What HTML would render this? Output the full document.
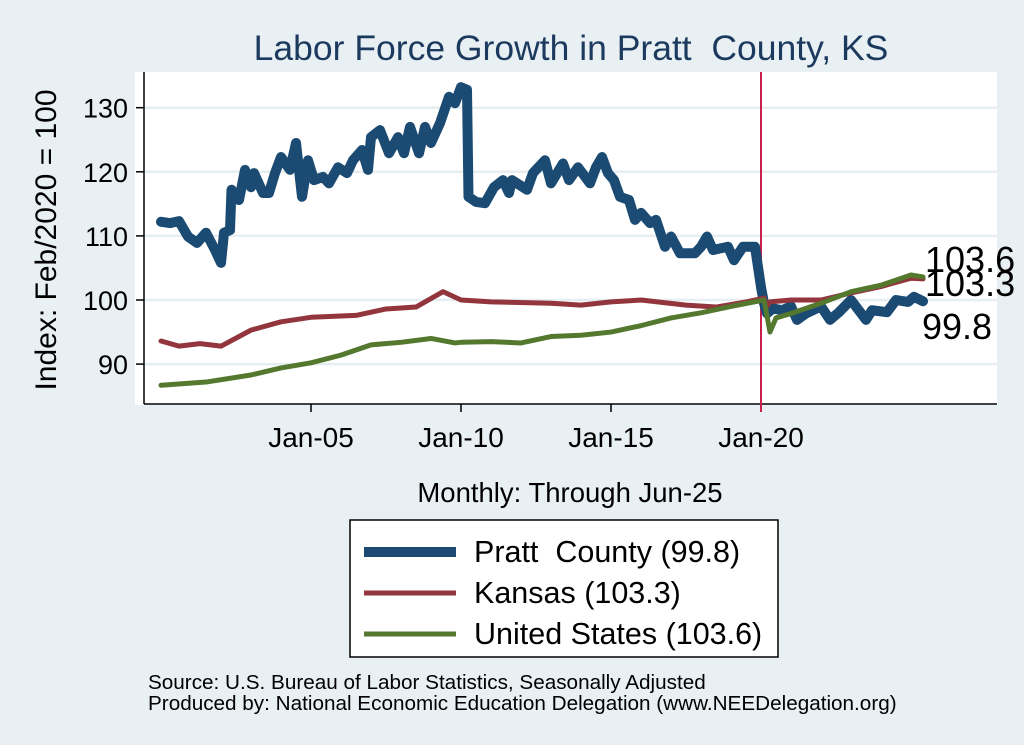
<!DOCTYPE html>
<html><head><meta charset="utf-8"><style>
html,body{margin:0;padding:0;background:#e9f0f4;}
svg{display:block;font-family:"Liberation Sans",sans-serif;}
</style></head><body>
<svg width="1024" height="745" viewBox="0 0 1024 745">
<rect x="0" y="0" width="1024" height="745" fill="#e9f0f4"/>
<rect x="135" y="72" width="862" height="333" fill="#ffffff"/>
<text x="571" y="60" font-size="35.5" fill="#1c3a5e" text-anchor="middle">Labor Force Growth in Pratt&#160; County, KS</text>
<g id="grid"></g>
<g id="axes"></g>
<g id="series"></g>
<text transform="translate(56,240) rotate(-90)" font-size="30" text-anchor="middle" fill="#000">Index: Feb/2020 = 100</text>
<text x="570" y="502" font-size="27.5" text-anchor="middle" fill="#000">Monthly: Through Jun-25</text>
<g>
<rect x="350" y="520" width="428" height="137" fill="#fff" stroke="#000" stroke-width="1.5"/>
<g><line x1="364" y1="552" x2="456" y2="552" stroke="#1b4a72" stroke-width="10"/><text x="474" y="562" font-size="30.5">Pratt&#160; County (99.8)</text></g>
<g><line x1="364" y1="593" x2="456" y2="593" stroke="#92353d" stroke-width="5"/><text x="474" y="603" font-size="30.5">Kansas (103.3)</text></g>
<g><line x1="364" y1="634" x2="456" y2="634" stroke="#55782f" stroke-width="5"/><text x="474" y="644" font-size="30.5">United States (103.6)</text></g>
</g>
<text x="148" y="689" font-size="20.7">Source: U.S. Bureau of Labor Statistics, Seasonally Adjusted</text>
<text x="148" y="710" font-size="20.7">Produced by: National Economic Education Delegation (www.NEEDelegation.org)</text>
</svg>
<script>
const yTicks=[90,100,110,120,130];
const xTickYears=[2005,2010,2015,2020];
const xTickLabels=["Jan-05","Jan-10","Jan-15","Jan-20"];
const prattDates=[2000.0,2000.3,2000.6,2000.9,2001.2,2001.5,2001.8,2002.0,2002.1,2002.3,2002.35,2002.6,2002.8,2003.0,2003.1,2003.4,2003.6,2003.8,2004.0,2004.3,2004.5,2004.7,2004.9,2005.1,2005.4,2005.6,2005.9,2006.2,2006.4,2006.7,2006.9,2007.0,2007.3,2007.6,2007.9,2008.1,2008.3,2008.6,2008.8,2009.0,2009.3,2009.6,2009.8,2010.0,2010.2,2010.25,2010.5,2010.8,2011.1,2011.4,2011.6,2011.7,2012.2,2012.4,2012.8,2013.0,2013.4,2013.6,2013.9,2014.3,2014.5,2014.7,2014.9,2015.1,2015.3,2015.6,2015.8,2016.0,2016.3,2016.5,2016.8,2017.0,2017.3,2017.8,2018.0,2018.2,2018.4,2018.9,2019.1,2019.4,2019.8,2020.0,2020.1,2020.2,2020.4,2020.7,2021.0,2021.2,2021.5,2022.0,2022.3,2022.6,2023.0,2023.5,2023.7,2024.2,2024.5,2024.9,2025.1,2025.4];
const prattValues=[112.2,112.0,112.3,109.9,108.9,110.5,107.8,105.8,110.5,110.9,117.2,115.6,120.3,117.6,119.8,116.7,116.7,119.8,122.3,120.3,124.5,116.1,121.8,118.7,119.2,118.2,120.7,119.8,121.8,123.4,120.3,125.4,126.5,122.9,125.4,122.9,127.0,122.9,127.0,124.5,127.6,131.7,130.7,133.2,132.8,116.1,115.3,115.1,117.6,118.7,116.7,118.7,117.2,119.8,121.8,118.2,121.3,118.7,120.7,118.2,120.7,122.3,119.8,118.7,116.1,115.6,112.5,113.6,112.0,112.5,108.3,109.9,107.3,107.3,108.3,109.9,107.8,108.3,106.2,108.3,108.3,102.0,99.5,97.9,98.7,98.4,99.0,96.9,97.9,99.0,96.9,98.1,100.0,96.9,98.4,98.1,100.0,99.7,100.5,99.8];
const ksDates=[2000.0,2000.6,2001.3,2002.0,2003.0,2004.0,2005.0,2006.5,2007.5,2008.5,2009.4,2010.0,2011.0,2013.0,2014.0,2015.0,2016.0,2017.5,2018.5,2019.5,2020.1,2020.2,2020.3,2021.0,2022.0,2023.0,2024.0,2025.0,2025.4];
const ksValues=[93.6,92.8,93.2,92.8,95.3,96.6,97.3,97.6,98.6,98.9,101.3,100.0,99.7,99.5,99.2,99.7,100.0,99.2,98.9,99.7,100.3,99.0,99.7,100.0,100.0,101.1,102.1,103.4,103.3];
const usDates=[2000.0,2001.5,2003.0,2004.0,2005.0,2006.0,2007.0,2008.0,2009.0,2009.8,2010.0,2011.0,2012.0,2013.0,2014.0,2015.0,2016.0,2017.0,2018.0,2019.0,2020.1,2020.3,2020.5,2021.0,2022.0,2023.0,2024.0,2025.0,2025.4];
const usValues=[86.7,87.2,88.3,89.4,90.2,91.4,93.0,93.4,94.0,93.3,93.4,93.5,93.3,94.3,94.5,95.0,96.0,97.2,98.0,99.0,100.0,95.0,97.2,97.9,99.5,101.3,102.3,103.9,103.6];
const endLabels=["103.6","103.3","99.8"];

const NS="http://www.w3.org/2000/svg";
function xs(t){return 161+(t-2000)*30;}
function ys(v){return 300-(v-100)*6.41;}
function mk(tag,attrs,parent){const e=document.createElementNS(NS,tag);for(const k in attrs)e.setAttribute(k,attrs[k]);parent.appendChild(e);return e;}
const grid=document.getElementById('grid'),axes=document.getElementById('axes'),series=document.getElementById('series');
yTicks.forEach(v=>{
  const g=mk('line',{x1:144,x2:997,y1:ys(v),y2:ys(v),stroke:'#e6eef2','stroke-width':2.5},grid);
  
  
  const t=mk('line',{x1:136,x2:144,y1:ys(v),y2:ys(v),stroke:'#000','stroke-width':1.5},axes);
  
  
  const l=mk('text',{x:128,y:ys(v)+10,'font-size':27,'text-anchor':'end'},axes);
  l.textContent=v;
  
  
});
mk('line',{x1:144,x2:144,y1:72,y2:404,stroke:'#000','stroke-width':1.5},axes);
mk('line',{x1:144,x2:997,y1:404,y2:404,stroke:'#000','stroke-width':1.5},axes);
xTickYears.forEach((yr,i)=>{
  const t=mk('line',{x1:xs(yr),x2:xs(yr),y1:404,y2:412,stroke:'#000','stroke-width':1.5},axes);
  
  
  const l=mk('text',{x:xs(yr),y:447,'font-size':28,'text-anchor':'middle'},axes);
  l.textContent=xTickLabels[i];
  
  
});
const ref=mk('line',{x1:xs(2020),x2:xs(2020),y1:72,y2:412,stroke:'#c8204a','stroke-width':2},series);


function line(d,v,color,w,name){
  const p=mk('polyline',{points:d.map((t,i)=>xs(t)+','+ys(v[i])).join(' '),fill:'none',stroke:color,'stroke-width':w,'stroke-linejoin':'round','stroke-linecap':'round'},series);
  
  
}
line(prattDates,prattValues,'#1b4a72',10,'pratt-county-line');
line(ksDates,ksValues,'#92353d',5,'kansas-line');
line(usDates,usValues,'#55782f',5,'united-states-line');
const ly=[272,296,339];
endLabels.forEach((s,i)=>{
  const t=mk('text',{x:i==2?922:925,y:ly[i],'font-size':36},series);
  t.textContent=s;
  
  
});
</script>
</body></html>
